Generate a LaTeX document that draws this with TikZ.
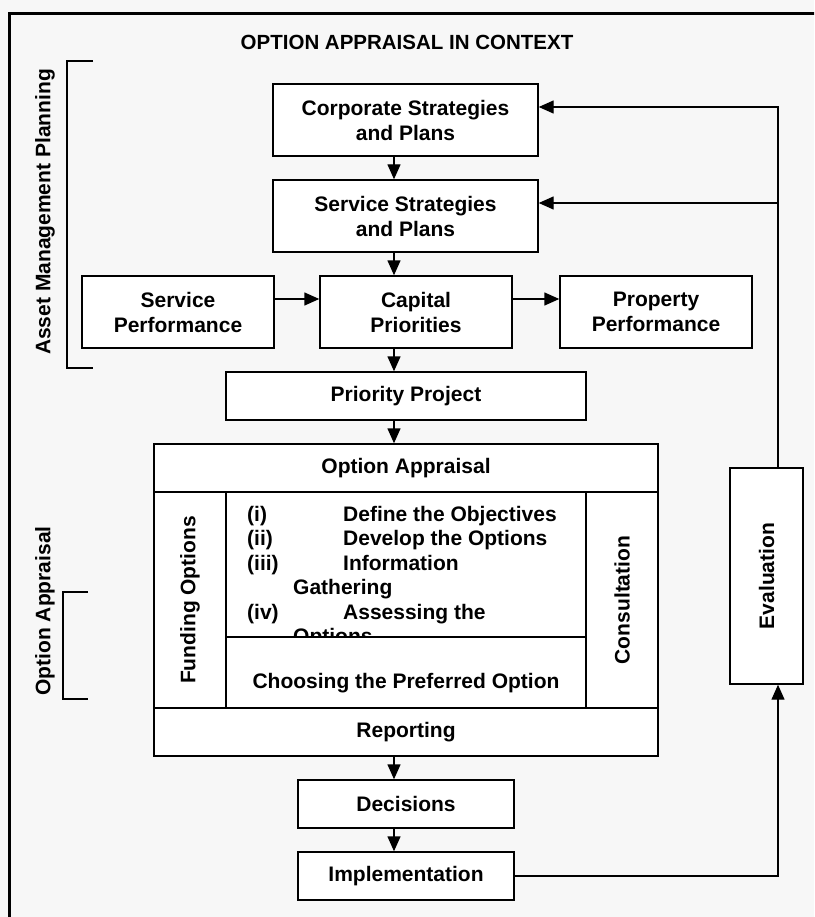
\documentclass[tikz,border=0pt]{standalone}
\usepackage{fontspec}
\setmainfont{Liberation Sans}
\usetikzlibrary{arrows.meta, positioning}
\definecolor{pagegray}{RGB}{247,247,247}

\begin{document}
\begin{tikzpicture}[x=1pt, y=-1pt,
    box/.style={rectangle, draw, line width=1.4pt, fill=white, align=center,
                font=\bfseries\fontsize{21}{25}\selectfont, inner sep=0pt},
    txt/.style={font=\bfseries\fontsize{21}{25}\selectfont, inner sep=0pt},
    side/.style={txt, rotate=90},
    arr/.style={-{Triangle[length=15pt,width=13pt]}, line width=1.4pt},
    bracket/.style={line width=1.2pt}
  ]
    \useasboundingbox (0,0) rectangle (814,917);
    \fill[pagegray] (0,0) rectangle (814,917);
    \begin{scope}
      \clip (0,0) rectangle (814,917);
      \draw[line width=3pt] (9.5,940) -- (9.5,13.5) -- (840,13.5);
    \end{scope}
    \node[txt, font=\bfseries\fontsize{20.5}{24}\selectfont] (title) at (407,42) {OPTION APPRAISAL IN CONTEXT};

    % planning chain
    \node[box, minimum width=265, minimum height=72] (corp)  at (405.5,120) {Corporate Strategies\\and Plans};
    \node[box, minimum width=265, minimum height=72] (serv)  at (405.5,216) {Service Strategies\\and Plans};
    \node[box, minimum width=192, minimum height=72] (cap)   at (416,312)   {Capital\\Priorities};
    \node[box, minimum width=192, minimum height=72] (sperf) at (178,312)   {Service\\Performance};
    \node[box, minimum width=192, minimum height=72] (pperf) at (656,312)   {Property\\Performance};
    \node[box, minimum width=360, minimum height=48] (prio)  at (406,396)   {Priority Project};

    % option appraisal block
    \node[box, minimum width=504, minimum height=48]  (oa)      at (406,468)   {Option Appraisal};
    \node[box, minimum width=72,  minimum height=216] (fund)    at (190,600)   {};
    \node[box, minimum width=72,  minimum height=216] (consult) at (622,600)   {};
    \node[box, minimum width=360, minimum height=145] (steps)   at (406,564.5) {};
    \node[side] (fundtxt)    at (fund.center)    {Funding Options};
    \node[side] (consulttxt) at (consult.center) {Consultation};
    \foreach \y/\num/\what [count=\k] in {521/{(i)}/{Define the Objectives},
        545.5/{(ii)}/{Develop the Options}, 570/{(iii)}/{Information},
        619/{(iv)}/{Assessing the}} {
      \node[txt, anchor=base west] (num\k)  at (247,\y) {\num};
      \node[txt, anchor=base west] (what\k) at (343,\y) {\what};
    }
    \node[txt, anchor=base west] (gather) at (293,594.5) {Gathering};
    \node[txt, anchor=base west] (opts)   at (293,643.5) {Options};
    \node[box, minimum width=360, minimum height=71] (choose) at (406,672.5) {};
    \node[txt] (choosetxt) at ([yshift=-10.5pt]choose.center) {Choosing the Preferred Option};
    \node[box, minimum width=504, minimum height=48] (report) at (406,732) {Reporting};

    \node[box, minimum width=216, minimum height=48] (dec)  at (406,804) {Decisions};
    \node[box, minimum width=216, minimum height=48] (impl) at (406,876) {Implementation};
    \node[box, minimum width=73, minimum height=216] (eval) at (766.5,576) {};
    \node[side] (evaltxt) at (eval.center) {Evaluation};

    % brackets and side labels
    \draw[bracket] (93,61) -- (67,61) -- (67,368) -- (93,368);
    \draw[bracket] (88,592) -- (63,592) -- (63,699) -- (88,699);
    \node[side] (amp)  at (45,212) {Asset Management Planning};
    \node[side] (oapp) at (45,611) {Option Appraisal};

    % arrows
    \coordinate (axis) at (394,0);
    \coordinate (fb)   at (778,0);
    \draw[arr] (corp.south -| axis) -- (serv.north -| axis);
    \draw[arr] (serv.south -| axis) -- (cap.north -| axis);
    \draw[arr] (cap.south -| axis)  -- (prio.north -| axis);
    \draw[arr] (prio.south -| axis) -- (oa.north -| axis);
    \draw[arr] (report.south -| axis) -- (dec.north -| axis);
    \draw[arr] (dec.south -| axis)  -- (impl.north -| axis);
    \draw[arr] ([yshift=13pt]sperf.east) -- ([yshift=13pt]cap.west);
    \draw[arr] ([yshift=13pt]cap.east) -- ([yshift=13pt]pperf.west);
    \draw[arr] (impl.east) -| (eval.south -| fb);
    \draw[arr] (eval.north -| fb) |- ([yshift=13pt]corp.east);
    \draw[arr] ([yshift=13pt]serv.east -| fb) -- ([yshift=13pt]serv.east);
\end{tikzpicture}
\end{document}
